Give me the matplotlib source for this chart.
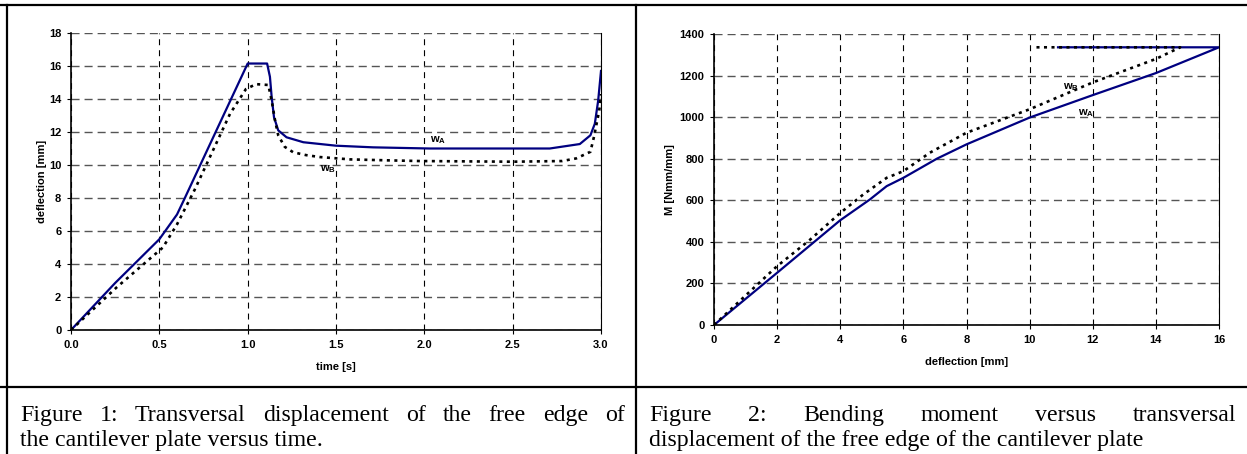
import numpy as np
import matplotlib
matplotlib.use('Agg')
import matplotlib.pyplot as plt
from matplotlib.lines import Line2D

matplotlib.rcParams['font.family'] = ['Liberation Sans', 'DejaVu Sans']
matplotlib.rcParams['mathtext.fontset'] = 'custom'
matplotlib.rcParams['mathtext.rm'] = 'Liberation Sans:bold'
matplotlib.rcParams['mathtext.bf'] = 'Liberation Sans:bold'
matplotlib.rcParams['lines.scale_dashes'] = False

# Figure 1: deflection of the free edge versus time
t_a = [0.0, 0.25, 0.5, 0.6, 0.64, 1.0, 1.11, 1.126, 1.136, 1.149, 1.173, 1.22, 1.315,
       1.5, 1.71, 2.03, 2.71, 2.88, 2.94, 2.965, 2.984, 3.0]
w_a = [0.0, 2.85, 5.5, 7.0, 7.9, 16.15, 16.15, 15.35, 14.1, 12.9, 12.1, 11.68, 11.38,
       11.17, 11.07, 11.0, 11.0, 11.27, 11.8, 12.5, 13.9, 15.7]
t_b = [0.0, 0.26, 0.52, 0.6, 0.7, 0.8, 0.9, 0.99, 1.047, 1.117, 1.136, 1.155, 1.173,
       1.21, 1.258, 1.33, 1.41, 1.58, 1.8, 1.975, 2.5, 2.78, 2.86, 2.94, 2.96, 2.975,
       2.99, 3.0]
w_b = [0.0, 2.6, 5.0, 6.4, 8.5, 10.8, 13.1, 14.6, 14.9, 14.85, 13.9, 12.7, 11.8,
       11.1, 10.77, 10.6, 10.48, 10.34, 10.28, 10.24, 10.2, 10.24, 10.4, 10.8, 11.7, 12.5,
       13.3, 14.3]

# Figure 2: bending moment versus deflection
d_a = [0, 1.99, 4.0, 4.94, 5.47, 6.0, 7.06, 8.0, 10.0, 12.0, 14.0, 16.0, 10.9]
m_a = [0, 250, 504, 604, 668, 708, 800, 869, 998, 1106, 1212, 1336, 1336]
d_b = [0, 1.99, 3.04, 4.0, 4.73, 5.47, 6.0, 6.84, 8.0, 10.0, 12.0, 14.0, 14.77, 10.2]
m_b = [0, 282, 410, 539, 628, 708, 740, 829, 925, 1038, 1167, 1280, 1336, 1336]

time_ticks = [0.0, 0.5, 1.0, 1.5, 2.0, 2.5, 3.0]
defl_ticks = list(range(0, 19, 2))
d_ticks = list(range(0, 17, 2))
m_ticks = list(range(0, 1401, 200))

caption1 = ["Figure 1: Transversal displacement of the free edge of",
            "the cantilever plate versus time."]
caption2 = ["Figure 2: Bending moment versus transversal",
            "displacement of the free edge of the cantilever plate"]

W, H = 1247, 454
fig = plt.figure(figsize=(W / 100, H / 100), dpi=100)

blue = '#000080'


def style_axes(ax):
    ax.spines['top'].set_visible(False)
    ax.spines['left'].set_linewidth(1.2)
    ax.spines['bottom'].set_linewidth(1.2)
    ax.spines['right'].set_linewidth(0.8)
    ax.tick_params(direction='out', length=3, width=0.8, pad=4, labelsize=8)
    for lab in ax.get_xticklabels() + ax.get_yticklabels():
        lab.set_fontweight('bold')
    ax.yaxis.grid(True, color='#555555', linewidth=1.0, linestyle=(0, (5.8, 3.6)))
    ax.xaxis.grid(True, color='black', linewidth=0.8, linestyle=(0, (4.3, 3.6)))
    ax.set_axisbelow(True)


# left chart
ax1 = fig.add_axes([71 / W, 1 - 330 / H, 530 / W, 297 / H])
ax1.plot(t_a, w_a, color=blue, linewidth=1.6)
ax1.plot(t_b, w_b, color='black', linewidth=1.9, linestyle=(0, (2.2, 3.2)))
ax1.set_xlim(0, 3)
ax1.set_ylim(0, 18)
ax1.set_xticks(time_ticks)
ax1.set_xticklabels(['%.1f' % t for t in time_ticks])
ax1.set_yticks(defl_ticks)
style_axes(ax1)
ax1.set_xlabel('time [s]', fontsize=8, fontweight='bold')
ax1.set_ylabel('deflection [mm]', fontsize=8, fontweight='bold')
ax1.xaxis.set_label_coords(0.5, (330 - 367) / 297)
ax1.yaxis.set_label_coords((42 - 71) / 530, 0.5)
ax1.xaxis.label.set_va('center')
ax1.yaxis.label.set_va('center')
ax1.text(2.03, 11.4, r'$\mathbf{w_A}$', fontsize=8, va='baseline')
ax1.text(1.41, 9.6, r'$\mathbf{w_B}$', fontsize=8, va='baseline')

# right chart
ax2 = fig.add_axes([714 / W, 1 - 325 / H, 505 / W, 291 / H])
ax2.plot(d_a, m_a, color=blue, linewidth=1.6)
ax2.plot(d_b, m_b, color='black', linewidth=1.9, linestyle=(0, (2.2, 3.2)))
ax2.set_xlim(0, 16)
ax2.set_ylim(0, 1400)
ax2.set_xticks(d_ticks)
ax2.set_yticks(m_ticks)
style_axes(ax2)
ax2.set_xlabel('deflection [mm]', fontsize=8, fontweight='bold')
ax2.set_ylabel('M [Nmm/mm]', fontsize=8, fontweight='bold')
ax2.xaxis.set_label_coords(0.5, (325 - 362) / 291)
ax2.yaxis.set_label_coords((670 - 714) / 505, 0.5)
ax2.xaxis.label.set_va('center')
ax2.yaxis.label.set_va('center')
ax2.text(11.07, 1134, r'$\mathbf{w_B}$', fontsize=8, va='baseline')
ax2.text(11.54, 1010, r'$\mathbf{w_A}$', fontsize=8, va='baseline')

# table borders
for x0, y0, x1, y1 in [(0, 5, W, 5), (0, 387, W, 387), (7, 5, 7, H), (636, 5, 636, H)]:
    fig.add_artist(Line2D([x0 / W, x1 / W], [1 - y0 / H, 1 - y1 / H],
                          color='black', linewidth=1.6, transform=fig.transFigure))

# captions
cap_font = dict(family='Liberation Serif', fontsize=17.2, va='baseline', ha='left')


def justify(line, x0, x1, y):
    objs = [fig.text(0, 1 - y / H, w, **cap_font) for w in line.split()]
    r = fig.canvas.get_renderer()
    widths = [o.get_window_extent(r).width for o in objs]
    gap = (x1 - x0 - sum(widths)) / (len(objs) - 1)
    x = x0
    for o, wd in zip(objs, widths):
        o.set_x(x / W)
        x += wd + gap


justify(caption1[0], 20, 625, 421)
fig.text(20 / W, 1 - 446 / H, caption1[1], **cap_font)
justify(caption2[0], 649, 1236, 421)
fig.text(649 / W, 1 - 446 / H, caption2[1], **cap_font)

plt.savefig('out.png', dpi=100)
